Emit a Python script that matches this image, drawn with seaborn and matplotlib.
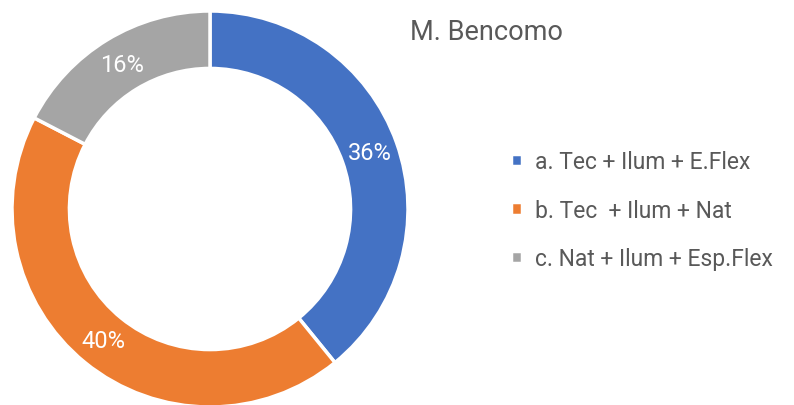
import matplotlib
matplotlib.use("Agg")
import matplotlib.pyplot as plt
import seaborn as sns

categories = ["a. Tec + Ilum + E.Flex", "b. Tec  + Ilum + Nat", "c. Nat + Ilum + Esp.Flex"]
values = [36, 40, 16]
colors = ["#4472C4", "#ED7D31", "#A5A5A5"]
title = "M. Bencomo"

sns.set_theme(style="white")
plt.rcParams['font.family'] = ['Roboto', 'DejaVu Sans']

fig = plt.figure(figsize=(7.94, 4.06), dpi=100)
ax = fig.add_axes([12 / 794, -2 / 406, 396 / 794, 396 / 406])

labels_iter = iter(values)
wedges, texts, autotexts = ax.pie(
    values, colors=colors, startangle=90, counterclock=False,
    wedgeprops={"width": 0.29, "edgecolor": "white", "linewidth": 2.5},
    autopct=lambda p: "{}%".format(next(labels_iter)), pctdistance=0.855,
    textprops={"color": "white", "fontsize": 17})
ax.set_xlim(-1, 1)
ax.set_ylim(-1, 1)
ax.set_aspect("equal")

fig.text(410 / 794, 1 - 33 / 406, title, fontsize=19.5, color="#595959",
         ha="left", va="center")

leg = fig.legend(wedges, categories, loc="upper left",
                 bbox_to_anchor=(511 / 794, 1 - 151 / 406),
                 frameon=False, fontsize=16.5, labelcolor="#595959",
                 handlelength=0.5, handleheight=0.45, handletextpad=0.55,
                 labelspacing=1.12, borderpad=0, borderaxespad=0)

fig.savefig("out.png", dpi=100)
